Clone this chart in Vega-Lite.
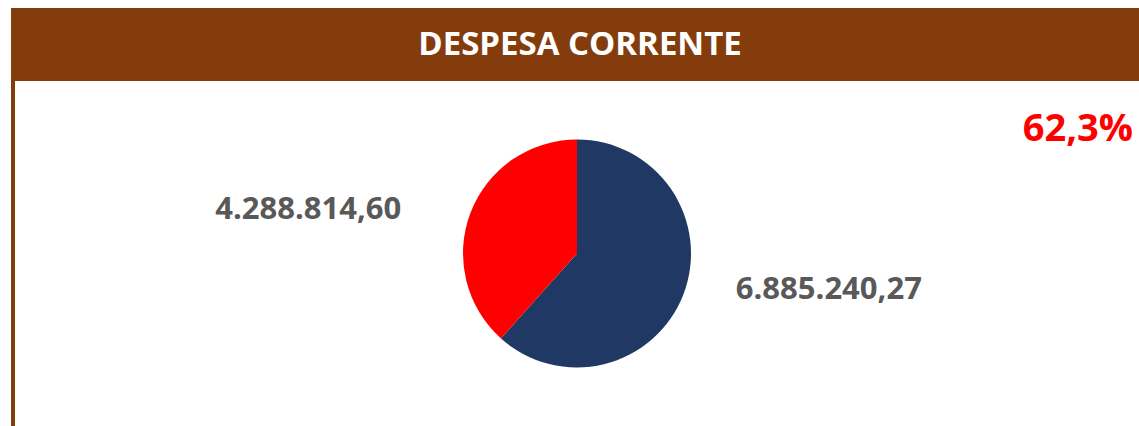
{
  "$schema": "https://vega.github.io/schema/vega-lite/v6.json",
  "background": "white",
  "padding": {"top": 8, "left": 11, "right": 0, "bottom": 0},
  "config": {
    "concat": {"spacing": 0},
    "view": {"stroke": null},
    "font": "Open Sans"
  },
  "datasets": {
    "despesa": [
      {"parcela": "executada", "valor": 6885240.27, "rotulo": "6.885.240,27"},
      {"parcela": "restante", "valor": 4288814.60, "rotulo": "4.288.814,60"}
    ]
  },
  "spacing": 0,
  "vconcat": [
    {
      "width": 1128,
      "height": 73,
      "view": {"fill": "#843C0C", "stroke": null},
      "data": {"values": [{"titulo": "DESPESA CORRENTE"}]},
      "mark": {"type": "text", "color": "white", "font": "Open Sans", "fontWeight": "bold", "fontSize": 33, "align": "center", "baseline": "middle", "dx": 5},
      "encoding": {"text": {"field": "titulo", "type": "nominal"}}
    },
    {
      "spacing": 0,
      "hconcat": [
        {
          "width": 4,
          "height": 345,
          "view": {"fill": "#843C0C", "stroke": null},
          "data": {"values": [{}]},
          "mark": {"type": "rect", "color": "#843C0C"},
          "encoding": {}
        },
        {
          "width": 1124,
          "height": 345,
          "view": {"fill": "white", "stroke": null},
          "layer": [
            {
              "data": {"name": "despesa"},
              "mark": {"type": "arc", "radius": 114},
              "encoding": {
                "theta": {"field": "valor", "type": "quantitative", "stack": true},
                "order": {"field": "parcela", "sort": "ascending"},
                "color": {
                  "field": "parcela",
                  "type": "nominal",
                  "scale": {"domain": ["executada", "restante"], "range": ["#203864", "#FF0000"]},
                  "legend": null
                }
              }
            },
            {
              "data": {"name": "despesa"},
              "mark": {"type": "text", "radius": 200, "dx": -82, "dy": 28, "font": "Open Sans", "fontWeight": "bold", "fontSize": 31, "color": "#595959", "align": "center", "baseline": "middle"},
              "encoding": {
                "theta": {"field": "valor", "type": "quantitative", "stack": true},
                "order": {"field": "parcela", "sort": "ascending"},
                "detail": {"field": "parcela", "type": "nominal"},
                "text": {"condition": {"test": "datum.parcela === 'restante'", "field": "rotulo", "type": "nominal"}, "value": ""}
              }
            },
            {
              "data": {"name": "despesa"},
              "mark": {"type": "text", "radius": 200, "dx": 65, "dy": -35, "font": "Open Sans", "fontWeight": "bold", "fontSize": 31, "color": "#595959", "align": "center", "baseline": "middle"},
              "encoding": {
                "theta": {"field": "valor", "type": "quantitative", "stack": true},
                "order": {"field": "parcela", "sort": "ascending"},
                "detail": {"field": "parcela", "type": "nominal"},
                "text": {"condition": {"test": "datum.parcela === 'executada'", "field": "rotulo", "type": "nominal"}, "value": ""}
              }
            },
            {
              "data": {"values": [{"percentual": "62,3%"}]},
              "mark": {"type": "text", "align": "right", "baseline": "top", "dx": -6, "dy": 30, "font": "Open Sans", "fontWeight": "bold", "fontSize": 38, "color": "#FF0000"},
              "encoding": {
                "x": {"value": "width"},
                "y": {"value": 0},
                "text": {"field": "percentual", "type": "nominal"}
              }
            }
          ]
        }
      ]
    }
  ]
}
